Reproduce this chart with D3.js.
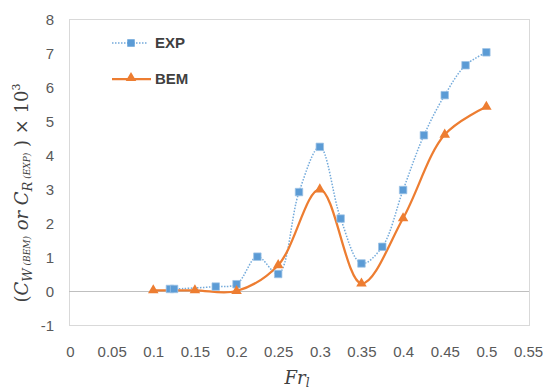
<!DOCTYPE html>
<html>
<head>
<meta charset="utf-8">
<script src="https://cdn.jsdelivr.net/npm/d3@7"></script>
<style>
  html, body { margin: 0; padding: 0; background: #fff; }
  svg { display: block; }
</style>
</head>
<body>
<script>
// Froude numbers and coefficients (×10³)
const expFr  = [0.12, 0.125, 0.175, 0.2, 0.225, 0.25, 0.275, 0.3, 0.325, 0.35, 0.375, 0.4, 0.425, 0.45, 0.475, 0.5];
const expVal = [0.06, 0.06, 0.13, 0.2, 1.01, 0.5, 2.91, 4.24, 2.13, 0.81, 1.30, 2.97, 4.58, 5.76, 6.64, 7.02];
const bemFr  = [0.1, 0.15, 0.2, 0.25, 0.3, 0.35, 0.4, 0.45, 0.5];
const bemVal = [0.02, 0.02, 0.0, 0.76, 2.99, 0.22, 2.14, 4.6, 5.42];
const xTicks = [0, 0.05, 0.1, 0.15, 0.2, 0.25, 0.3, 0.35, 0.4, 0.45, 0.5, 0.55];
const yTicks = [-1, 0, 1, 2, 3, 4, 5, 6, 7, 8];
const seriesNames = ["EXP", "BEM"];

const W = 546, H = 391;
const plot = { left: 69, right: 529, top: 19, bottom: 325 };
const blue = "#5b9bd5", orange = "#ed7d31", textCol = "#595959";
const font = "'Liberation Sans', Arial, sans-serif";

const svg = d3.select("body").append("svg").attr("width", W).attr("height", H);

const x = d3.scaleLinear().domain([0, 0.55]).range([70, 528]);
const y = d3.scaleLinear().domain([-1, 8]).range([plot.bottom, plot.top]);

// plot area frame
svg.append("rect")
  .attr("x", plot.left + 0.5).attr("y", plot.top + 0.5)
  .attr("width", plot.right - plot.left).attr("height", plot.bottom - plot.top)
  .attr("fill", "none").attr("stroke", "#d9d9d9").attr("stroke-width", 1);

// zero line
svg.append("line")
  .attr("x1", plot.left).attr("x2", plot.right)
  .attr("y1", Math.round(y(0)) + 0.5).attr("y2", Math.round(y(0)) + 0.5)
  .attr("stroke", "#bfbfbf").attr("stroke-width", 1);

// y tick labels
const yAxis = d3.axisLeft(y).tickValues(yTicks).tickSize(0).tickPadding(0).tickFormat(d => String(d));
const gy = svg.append("g").attr("transform", "translate(54,0)").call(yAxis);
gy.select(".domain").remove();
gy.selectAll("text").attr("fill", textCol).attr("font-size", 15).attr("font-family", font).attr("dy", "0.35em");

// x tick labels
const xAxis = d3.axisBottom(x).tickValues(xTicks).tickSize(0).tickPadding(0).tickFormat(d => String(d));
const gx = svg.append("g").attr("transform", "translate(0,346)").call(xAxis);
gx.select(".domain").remove();
gx.selectAll("text").attr("fill", textCol).attr("font-size", 15).attr("font-family", font).attr("dy", "0.71em");

// smooth lines
const expData = expFr.map((f, i) => [f, expVal[i]]);
const bemData = bemFr.map((f, i) => [f, bemVal[i]]);
const line = d3.line().x(d => x(d[0])).y(d => y(d[1])).curve(d3.curveCatmullRom.alpha(0.5));

svg.append("path").datum(expData).attr("d", line)
  .attr("fill", "none").attr("stroke", blue).attr("stroke-width", 1.5)
  .attr("stroke-dasharray", "1.5,1.5").attr("opacity", 0.85);

svg.append("path").datum(bemData).attr("d", line)
  .attr("fill", "none").attr("stroke", orange).attr("stroke-width", 2.25);

const sq = d3.symbol().type(d3.symbolSquare).size(56);
const tri = d3.symbol().type(d3.symbolTriangle).size(48);

svg.append("g").selectAll("path").data(expData).join("path")
  .attr("transform", d => `translate(${x(d[0])},${y(d[1])})`)
  .attr("d", sq).attr("fill", blue).attr("stroke", "#9dc3e6").attr("stroke-width", 0.75);

svg.append("g").selectAll("path").data(bemData).join("path")
  .attr("transform", d => `translate(${x(d[0])},${y(d[1])})`)
  .attr("d", tri).attr("fill", orange);

// legend
const leg = svg.append("g");
leg.append("line").attr("x1", 112).attr("x2", 148).attr("y1", 43).attr("y2", 43)
  .attr("stroke", blue).attr("stroke-width", 1.5).attr("stroke-dasharray", "1.5,1.5").attr("opacity", 0.85);
leg.append("path").attr("transform", "translate(131,43)").attr("d", sq).attr("fill", blue);
leg.append("text").attr("x", 155).attr("y", 43).attr("dy", "0.35em").text(seriesNames[0])
  .attr("fill", "#404040").attr("font-size", 15).attr("font-weight", "bold").attr("font-family", font);
leg.append("line").attr("x1", 112).attr("x2", 151).attr("y1", 79).attr("y2", 79)
  .attr("stroke", orange).attr("stroke-width", 2.25);
leg.append("path").attr("transform", "translate(131,78)").attr("d", tri).attr("fill", orange);
leg.append("text").attr("x", 155).attr("y", 79).attr("dy", "0.35em").text(seriesNames[1])
  .attr("fill", "#404040").attr("font-size", 15).attr("font-weight", "bold").attr("font-family", font);

// axis titles
const serif = "'DejaVu Serif', 'Liberation Serif', serif";
const yt = svg.append("text")
  .attr("transform", "translate(28,193) rotate(-90)")
  .attr("text-anchor", "middle").attr("font-family", serif).attr("font-size", 18).attr("fill", "#404040");
yt.append("tspan").text("(");
yt.append("tspan").attr("font-style", "italic").text("C");
yt.append("tspan").attr("font-style", "italic").attr("font-size", 13).attr("dy", 4).text("W");
yt.append("tspan").attr("font-style", "italic").attr("font-size", 9).attr("dy", -2).text(" (BEM)");
yt.append("tspan").attr("font-style", "italic").attr("dy", -2).text(" or  ");
yt.append("tspan").attr("font-style", "italic").text("C");
yt.append("tspan").attr("font-style", "italic").attr("font-size", 13).attr("dy", 4).text("R");
yt.append("tspan").attr("font-style", "italic").attr("font-size", 9).attr("dy", -2).text(" (EXP)");
yt.append("tspan").attr("dy", -2).text(" ) × 10");
yt.append("tspan").attr("font-size", 11).attr("dy", -8).text("3");

const xt = svg.append("text")
  .attr("x", 297).attr("y", 384).attr("text-anchor", "middle")
  .attr("font-family", serif).attr("font-size", 18).attr("font-style", "italic").attr("fill", "#404040");
xt.append("tspan").text("Fr");
xt.append("tspan").attr("font-size", 12).attr("dy", 3).text("l");
</script>
</body>
</html>
